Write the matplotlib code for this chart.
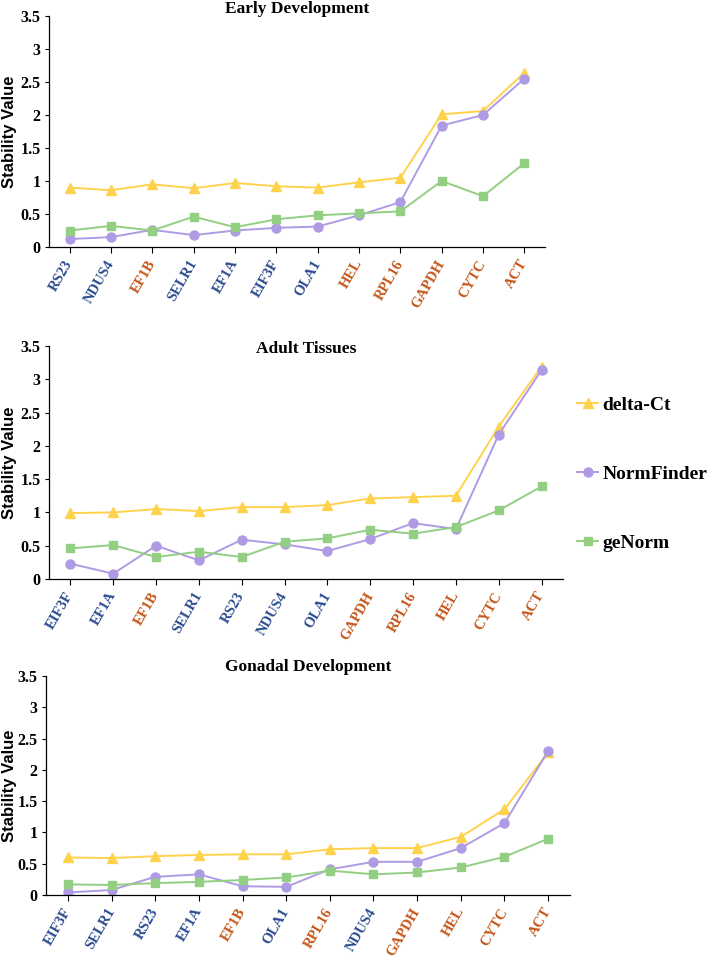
import matplotlib.pyplot as plt
from matplotlib.lines import Line2D

# Datos: Early Development
early_genes = ['RS23', 'NDUS4', 'EF1B', 'SELR1', 'EF1A', 'EIF3F', 'OLA1',
               'HEL', 'RPL16', 'GAPDH', 'CYTC', 'ACT']
early_delta = [0.90, 0.86, 0.95, 0.89, 0.97, 0.92, 0.90, 0.98, 1.05, 2.01, 2.06, 2.64]
early_normfinder = [0.12, 0.15, 0.26, 0.18, 0.25, 0.29, 0.31, 0.48, 0.68, 1.84, 2.00, 2.55]
early_genorm = [0.25, 0.32, 0.25, 0.46, 0.30, 0.42, 0.48, 0.51, 0.54, 1.00, 0.77, 1.27]

# Datos: Adult Tissues
adult_genes = ['EIF3F', 'EF1A', 'EF1B', 'SELR1', 'RS23', 'NDUS4', 'OLA1',
               'GAPDH', 'RPL16', 'HEL', 'CYTC', 'ACT']
adult_delta = [0.99, 1.00, 1.05, 1.02, 1.08, 1.08, 1.11, 1.21, 1.23, 1.25, 2.29, 3.19]
adult_normfinder = [0.23, 0.08, 0.50, 0.28, 0.59, 0.52, 0.42, 0.60, 0.84, 0.75, 2.17, 3.14]
adult_genorm = [0.46, 0.51, 0.33, 0.41, 0.33, 0.56, 0.61, 0.74, 0.68, 0.78, 1.03, 1.39]

# Datos: Gonadal Development
gonadal_genes = ['EIF3F', 'SELR1', 'RS23', 'EF1A', 'EF1B', 'OLA1', 'RPL16',
                 'NDUS4', 'GAPDH', 'HEL', 'CYTC', 'ACT']
gonadal_delta = [0.60, 0.59, 0.62, 0.64, 0.65, 0.65, 0.73, 0.75, 0.75, 0.93, 1.37, 2.28]
gonadal_normfinder = [0.04, 0.08, 0.29, 0.33, 0.14, 0.13, 0.41, 0.53, 0.53, 0.75, 1.15, 2.30]
gonadal_genorm = [0.17, 0.16, 0.19, 0.21, 0.24, 0.28, 0.39, 0.33, 0.36, 0.44, 0.61, 0.90]

# Genes en naranja (el resto en azul)
orange_genes = ['EF1B', 'HEL', 'RPL16', 'GAPDH', 'CYTC', 'ACT']

yticks = [0, 0.5, 1, 1.5, 2, 2.5, 3, 3.5]
ytick_labels = ['0', '0.5', '1', '1.5', '2', '2.5', '3', '3.5']

# Estilo
col_delta = '#FFD24D'
col_nf = '#AE9BE4'
col_gn = '#93CF82'
col_blue = '#2A4A8F'
col_orange = '#C4561A'
serif = 'Liberation Serif'
lw = 1.4

panels = [
    ('Early Development', early_genes, early_delta, early_normfinder, early_genorm,
     [49, 545, 16, 247], 1.03),
    ('Adult Tissues', adult_genes, adult_delta, adult_normfinder, adult_genorm,
     [49, 563, 346, 579], 0.985),
    ('Gonadal Development', gonadal_genes, gonadal_delta, gonadal_normfinder, gonadal_genorm,
     [46, 570, 676, 895], 1.04),
]

W, H = 709, 957
fig = plt.figure(figsize=(W / 100, H / 100), dpi=100, facecolor='white')

for title, genes, d_ct, nf, gn, box, title_y in panels:
    left, right, top, bottom = box
    ax = fig.add_axes([left / W, 1 - bottom / H, (right - left) / W, (bottom - top) / H])
    x = range(len(genes))

    ax.plot(x, d_ct, color=col_delta, marker='^', markersize=6.5, linewidth=lw)
    ax.plot(x, nf, color=col_nf, marker='o', markersize=6.5, linewidth=lw)
    ax.plot(x, gn, color=col_gn, marker='s', markersize=6, linewidth=lw)

    ax.set_xlim(-0.5, len(genes) - 0.5)
    ax.set_ylim(0, 3.5)
    ax.spines['top'].set_visible(False)
    ax.spines['right'].set_visible(False)
    ax.spines['left'].set_linewidth(0.9)
    ax.spines['bottom'].set_linewidth(0.9)

    ax.set_yticks(yticks)
    ax.set_yticklabels(ytick_labels, fontfamily=serif, fontweight='bold', fontsize=11.5)
    ax.tick_params(axis='y', direction='out', length=3, width=0.8, pad=3)

    ax.set_xticks(list(x))
    ax.set_xticklabels(genes, rotation=60, ha='right', va='center',
                       rotation_mode='anchor', fontfamily=serif,
                       fontweight='bold', fontsize=10.5)
    for lbl, g in zip(ax.get_xticklabels(), genes):
        lbl.set_color(col_orange if g in orange_genes else col_blue)
    ax.tick_params(axis='x', direction='out', length=4, width=0.8, pad=6)

    ax.set_ylabel('Stability Value', fontfamily='Liberation Sans',
                  fontweight='bold', fontsize=12)
    ax.yaxis.set_label_coords(-(left - 17) / (right - left), 0.5)

    ax.text(0.5, title_y, title, transform=ax.transAxes, ha='center', va='center',
            fontfamily=serif, fontweight='bold', fontsize=12.5)

# Leyenda
handles = [
    Line2D([], [], color=col_delta, marker='^', markersize=6.5, linewidth=lw),
    Line2D([], [], color=col_nf, marker='o', markersize=6.5, linewidth=lw),
    Line2D([], [], color=col_gn, marker='s', markersize=6, linewidth=lw),
]
fig.legend(handles, ['delta-Ct', 'NormFinder', 'geNorm'],
           loc='upper left', bbox_to_anchor=(577 / W, 1 - 396 / H),
           frameon=False, handlelength=1.1, handletextpad=0.2,
           labelspacing=2.65, borderpad=0, borderaxespad=0,
           prop={'family': serif, 'weight': 'bold', 'size': 14})

plt.savefig('out.png', dpi=100, facecolor='white')
